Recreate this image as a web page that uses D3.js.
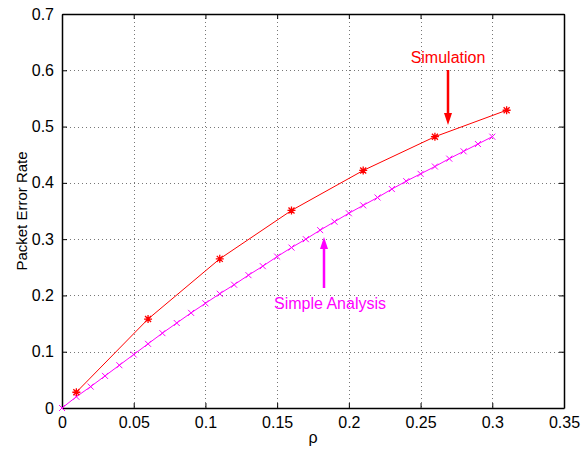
<!DOCTYPE html>
<html>
  <head>
    <meta charset="UTF-8" />
    <style>
      body { margin: 0; background: #fff; }
      svg { display: block; font-family: "Liberation Sans", Arial, sans-serif; }
    </style>
  </head>
  <body>
    <svg></svg>
    <script src="https://d3js.org/d3.v7.min.js"></script>
    <script>
      let width = 585,
        height = 449;

      // data
      const simRho = [0.01, 0.06, 0.11, 0.16, 0.21, 0.26, 0.31];
      const simPer = [0.028, 0.158, 0.265, 0.351, 0.422, 0.482, 0.529];

      const anaRho = [0, 0.01, 0.02, 0.03, 0.04, 0.05, 0.06, 0.07, 0.08, 0.09,
        0.1, 0.11, 0.12, 0.13, 0.14, 0.15, 0.16, 0.17, 0.18, 0.19,
        0.2, 0.21, 0.22, 0.23, 0.24, 0.25, 0.26, 0.27, 0.28, 0.29, 0.3];
      const anaPer = [0, 0.02, 0.038, 0.057, 0.076, 0.095, 0.114, 0.133, 0.151, 0.169,
        0.186, 0.203, 0.219, 0.236, 0.252, 0.269, 0.285, 0.3, 0.316, 0.331,
        0.346, 0.36, 0.374, 0.389, 0.403, 0.416, 0.429, 0.443, 0.456, 0.469, 0.482];

      const xTicks = [0, 0.05, 0.1, 0.15, 0.2, 0.25, 0.3, 0.35];
      const yTicks = [0, 0.1, 0.2, 0.3, 0.4, 0.5, 0.6, 0.7];

      let svg = d3.select("svg").attr("width", width).attr("height", height);

      let x = d3.scaleLinear().domain([0, 0.35]).range([62, 564]);
      let y = d3.scaleLinear().domain([0, 0.7]).range([408, 14]);

      // grid
      let grid = svg.append("g").attr("stroke", "#777").attr("stroke-dasharray", "1,3").attr("stroke-width", 1);
      grid.selectAll(".gx")
        .data(xTicks.slice(1, -1))
        .join("line")
        .attr("x1", (d) => Math.round(x(d)) + 0.5)
        .attr("x2", (d) => Math.round(x(d)) + 0.5)
        .attr("y1", y(0.7))
        .attr("y2", y(0));
      grid.selectAll(".gy")
        .data(yTicks.slice(1, -1))
        .join("line")
        .attr("y1", (d) => Math.round(y(d)) + 0.5)
        .attr("y2", (d) => Math.round(y(d)) + 0.5)
        .attr("x1", x(0))
        .attr("x2", x(0.35));

      // axes (MATLAB style, ticks inside, box on)
      let fmt = (d) => (d === 0 ? "0" : d3.format("")(d));
      let axBottom = svg.append("g")
        .attr("transform", `translate(0,${y(0)})`)
        .call(d3.axisBottom(x).tickValues(xTicks).tickFormat(fmt).tickSizeInner(-5).tickSizeOuter(0).tickPadding(9));
      let axLeft = svg.append("g")
        .attr("transform", `translate(${x(0)},0)`)
        .call(d3.axisLeft(y).tickValues(yTicks).tickFormat(fmt).tickSizeInner(-5).tickSizeOuter(0).tickPadding(8));
      let axTop = svg.append("g")
        .attr("transform", `translate(0,${y(0.7)})`)
        .call(d3.axisTop(x).tickValues(xTicks).tickFormat("").tickSizeInner(-5).tickSizeOuter(0));
      let axRight = svg.append("g")
        .attr("transform", `translate(${x(0.35)},0)`)
        .call(d3.axisRight(y).tickValues(yTicks).tickFormat("").tickSizeInner(-5).tickSizeOuter(0));

      [axBottom, axLeft, axTop, axRight].forEach((g) => {
        g.select(".domain").attr("stroke", "#000").attr("stroke-width", 1.5);
        g.selectAll(".tick line").attr("stroke", "#000").attr("stroke-width", 1);
        g.selectAll(".tick text").attr("fill", "#000").style("font-size", "16px").style("font-family", "Liberation Sans, Arial, sans-serif");
      });

      // axis labels
      svg.append("text")
        .attr("x", (x(0) + x(0.35)) / 2)
        .attr("y", 443)
        .attr("text-anchor", "middle")
        .style("font-size", "16px")
        .text("ρ");
      svg.append("text")
        .attr("transform", `translate(27,${(y(0) + y(0.7)) / 2}) rotate(-90)`)
        .attr("text-anchor", "middle")
        .style("font-size", "15px")
        .text("Packet Error Rate");

      let line = d3.line().x((d) => x(d[0])).y((d) => y(d[1]));

      // simple analysis (magenta, x markers)
      let ana = d3.zip(anaRho, anaPer);
      svg.append("path")
        .datum(ana)
        .attr("fill", "none")
        .attr("stroke", "#ff00ff")
        .attr("stroke-width", 1)
        .attr("d", line);
      svg.append("g")
        .selectAll("path")
        .data(ana)
        .join("path")
        .attr("transform", (d) => `translate(${x(d[0])},${y(d[1])})`)
        .attr("d", "M-3,-3L3,3M-3,3L3,-3")
        .attr("stroke", "#ff00ff")
        .attr("stroke-width", 1);

      // simulation (red, asterisk markers)
      let sim = d3.zip(simRho, simPer);
      svg.append("path")
        .datum(sim)
        .attr("fill", "none")
        .attr("stroke", "#ff0000")
        .attr("stroke-width", 1)
        .attr("d", line);
      svg.append("g")
        .selectAll("path")
        .data(sim)
        .join("path")
        .attr("transform", (d) => `translate(${x(d[0])},${y(d[1])})`)
        .attr("d", "M-4,0L4,0M0,-4L0,4M-3,-3L3,3M-3,3L3,-3")
        .attr("stroke", "#ff0000")
        .attr("stroke-width", 1.3);

      // annotations
      function arrow(x0, y0, y1, color) {
        let dir = y1 > y0 ? 1 : -1;
        let headLen = 12;
        svg.append("line")
          .attr("x1", x0).attr("x2", x0)
          .attr("y1", y0).attr("y2", y1 - dir * headLen)
          .attr("stroke", color)
          .attr("stroke-width", 2.5);
        svg.append("path")
          .attr("d", `M${x0 - 4},${y1 - dir * headLen}L${x0 + 4},${y1 - dir * headLen}L${x0},${y1}Z`)
          .attr("fill", color);
      }

      svg.append("text")
        .attr("x", 448)
        .attr("y", 63)
        .attr("text-anchor", "middle")
        .attr("fill", "#ff0000")
        .style("font-size", "16px")
        .text("Simulation");
      arrow(448, 70, 125, "#ff0000");

      svg.append("text")
        .attr("x", 330)
        .attr("y", 309)
        .attr("text-anchor", "middle")
        .attr("fill", "#ff00ff")
        .style("font-size", "16px")
        .text("Simple Analysis");
      arrow(324, 288, 237, "#ff00ff");
    </script>
  </body>
</html>
